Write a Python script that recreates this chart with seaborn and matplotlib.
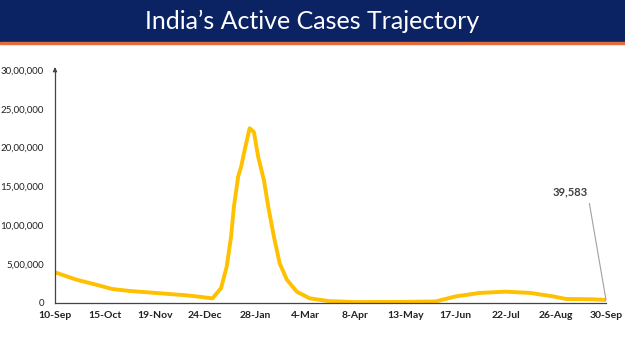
import matplotlib.pyplot as plt
import numpy as np
import pandas as pd
import seaborn as sns

# active cases (lakh = 1,00,000)
dates = ['2021-09-10', '2021-09-25', '2021-10-10', '2021-10-20', '2021-11-01',
         '2021-11-19', '2021-12-10', '2021-12-20', '2021-12-29', '2022-01-04',
         '2022-01-08', '2022-01-11', '2022-01-13', '2022-01-16', '2022-01-18',
         '2022-01-21', '2022-01-24', '2022-01-27', '2022-01-30', '2022-02-03',
         '2022-02-06', '2022-02-10', '2022-02-14', '2022-02-19', '2022-02-26',
         '2022-03-07', '2022-03-20', '2022-04-08', '2022-05-13', '2022-06-03',
         '2022-06-17', '2022-07-04', '2022-07-22', '2022-08-08', '2022-08-24',
         '2022-09-02', '2022-09-20', '2022-09-30']
active_lakh = [3.95, 3.0, 2.3, 1.8, 1.55,
               1.3, 1.0, 0.8, 0.6, 1.9,
               4.7, 8.5, 12.4, 16.3, 17.5,
               20.1, 22.5, 22.0, 18.8, 15.8,
               12.4, 8.5, 5.1, 3.0, 1.45,
               0.6, 0.25, 0.12, 0.15, 0.2,
               0.85, 1.3, 1.46, 1.3, 0.85,
               0.52, 0.48, 0.39583]
last_label = '39,583'
y_ticks = [0, 500000, 1000000, 1500000, 2000000, 2500000, 3000000]
y_labels = ['0', '5,00,000', '10,00,000', '15,00,000', '20,00,000', '25,00,000', '30,00,000']

df = pd.DataFrame({'date': pd.to_datetime(dates),
                   'active': np.array(active_lakh) * 100000})

sns.set_style('white')
plt.rcParams['font.family'] = ['Lato', 'DejaVu Sans']

fig = plt.figure(figsize=(6.25, 3.51), dpi=100)

# title banner
fig.patches.append(plt.Rectangle((0, 1 - 42 / 351), 1, 42 / 351, transform=fig.transFigure,
                                 color='#0b2263', zorder=0))
fig.patches.append(plt.Rectangle((0, 1 - 44 / 351), 1, 2 / 351, transform=fig.transFigure,
                                 color='#e46c3a', zorder=0))
fig.text(0.5, 1 - 21 / 351, "India\u2019s Active Cases Trajectory", color='white',
         fontsize=18, ha='center', va='center')

ax = fig.add_axes([55 / 625, 1 - 303 / 351, 551 / 625, 233 / 351])
sns.lineplot(data=df, x='date', y='active', ax=ax, color='#ffc000', linewidth=2.8)

start = pd.Timestamp('2021-09-10')
ticks = [start + pd.Timedelta(days=35 * i) for i in range(12)]
ax.set_xlim(ticks[0], ticks[-1])
ax.set_xticks(ticks)
ax.set_xticklabels([f'{t.day}-{t.strftime("%b")}' for t in ticks], fontweight='bold',
                   fontsize=7.5, color='#222222')
ax.set_ylim(0, 3000000)
ax.set_yticks(y_ticks)
ax.set_yticklabels(y_labels, fontsize=7, color='#222222')
ax.set_xlabel('')
ax.set_ylabel('')

sns.despine(ax=ax)
for s in ['left', 'bottom']:
    ax.spines[s].set_color('#444444')
    ax.spines[s].set_linewidth(0.9)
ax.tick_params(axis='x', length=3, width=0.8, color='#444444', pad=3)
ax.tick_params(axis='y', length=0, pad=8)

# arrow on top of the y axis
ax.annotate('', xy=(0, 1.012), xytext=(0, 0.99), xycoords='axes fraction',
            arrowprops=dict(arrowstyle='-|>', color='#444444', lw=0.8, mutation_scale=6))

# label for the last value
ax.annotate(last_label, xy=(df['date'].iloc[-1], df['active'].iloc[-1]),
            xytext=(pd.Timestamp('2022-09-17'), 1430000), ha='right', va='center',
            fontsize=8, fontweight='bold', color='#404040',
            arrowprops=dict(arrowstyle='-', color='#a0a0a0', lw=0.8,
                            relpos=(1, 0.5), shrinkA=2, shrinkB=0))

fig.savefig('out.png', dpi=100)
